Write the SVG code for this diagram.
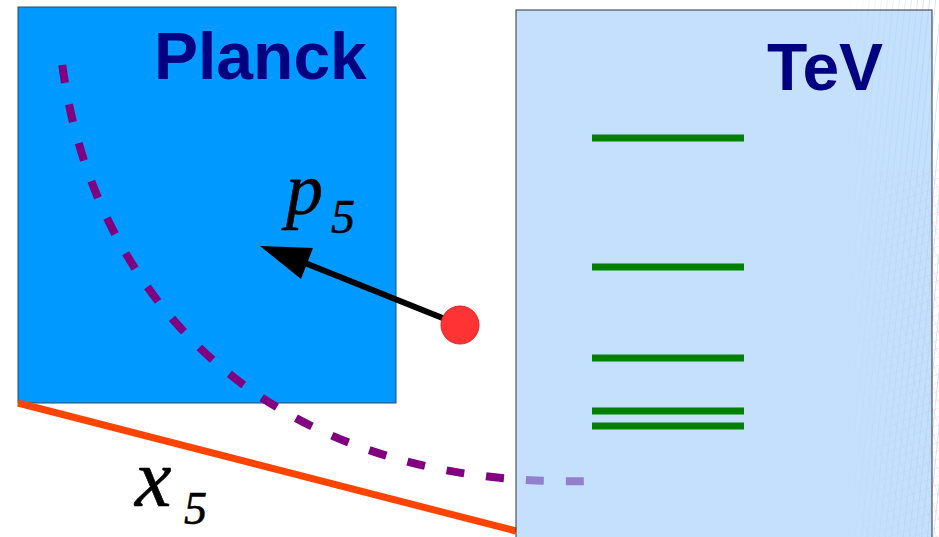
<svg xmlns="http://www.w3.org/2000/svg" width="939" height="537" viewBox="0 0 939 537">
<style>
.title{font-family:"Liberation Sans",Arial,sans-serif;font-weight:bold;fill:#000080}
.math{font-family:"Liberation Serif","Times New Roman",serif;font-style:italic;fill:#000;stroke:#000;stroke-width:0.6}
.level{stroke:#008000;stroke-width:7}
</style>
<defs>
<pattern id="gridB" width="6" height="6" patternUnits="userSpaceOnUse" patternTransform="rotate(6)">
<path d="M0,0V6" stroke="#6fbef2" stroke-width="1.2" fill="none"/>
</pattern>
<pattern id="gridR" width="8" height="8" patternUnits="userSpaceOnUse" patternTransform="rotate(-20)">
<path d="M0,0H8M0,0V8" stroke="#f0a0b8" stroke-width="1" fill="none"/>
</pattern>
<linearGradient id="fadeB" x1="0" y1="0" x2="1" y2="0">
<stop offset="0" stop-color="#fff" stop-opacity="0"/>
<stop offset="1" stop-color="#fff" stop-opacity="1"/>
</linearGradient>
<mask id="mB"><rect x="840" y="0" width="99" height="537" fill="url(#fadeB)"/></mask>
</defs>
<rect width="939" height="537" fill="#fff"/>
<g id="background-grid" opacity="0.6">
<rect x="840" y="0" width="99" height="537" fill="url(#gridB)" mask="url(#mB)"/>
<rect x="860" y="170" width="79" height="367" fill="url(#gridR)" mask="url(#mB)" opacity="0.8"/>
</g>
<g id="planck">
<rect x="18" y="7" width="378" height="396" fill="#0099ff" stroke="#2a4a66" stroke-width="1"/>
<text class="title" x="154" y="79" font-size="66">Planck</text>
</g>
<g id="connectors">
<line x1="18" y1="403" x2="516" y2="531" stroke="#ff4400" stroke-width="7"/>
<path d="M62,63 C90,280 250,490 592,481" fill="none" stroke="#800080" stroke-width="8" stroke-dasharray="18 22" stroke-dashoffset="-2"/>
</g>
<g id="tev">
<rect x="516" y="10" width="416" height="540" fill="#a0cdfa" fill-opacity="0.62" stroke="#333" stroke-width="1"/>
<text class="title" x="767" y="90" font-size="66">TeV</text>
<line class="level" x1="592" y1="138" x2="744" y2="138"/>
<line class="level" x1="592" y1="267" x2="744" y2="267"/>
<line class="level" x1="592" y1="358" x2="744" y2="358"/>
<line class="level" x1="592" y1="411" x2="744" y2="411"/>
<line class="level" x1="592" y1="426" x2="744" y2="426"/>
</g>
<g id="momentum">
<line x1="460" y1="325" x2="305" y2="263" stroke="#000" stroke-width="6"/>
<polygon points="260,246 313,248 301,279" fill="#000"/>
<circle cx="460" cy="325" r="19" fill="#ff3333" stroke="#e02020" stroke-width="1"/>
<text class="math" x="286" y="214" font-size="74">p</text>
<text class="math" x="331" y="233" font-size="48">5</text>
</g>
<g id="label-x5">
<text class="math" x="135" y="506" font-size="82">x</text>
<text class="math" x="184" y="524" font-size="46">5</text>
</g>
</svg>
